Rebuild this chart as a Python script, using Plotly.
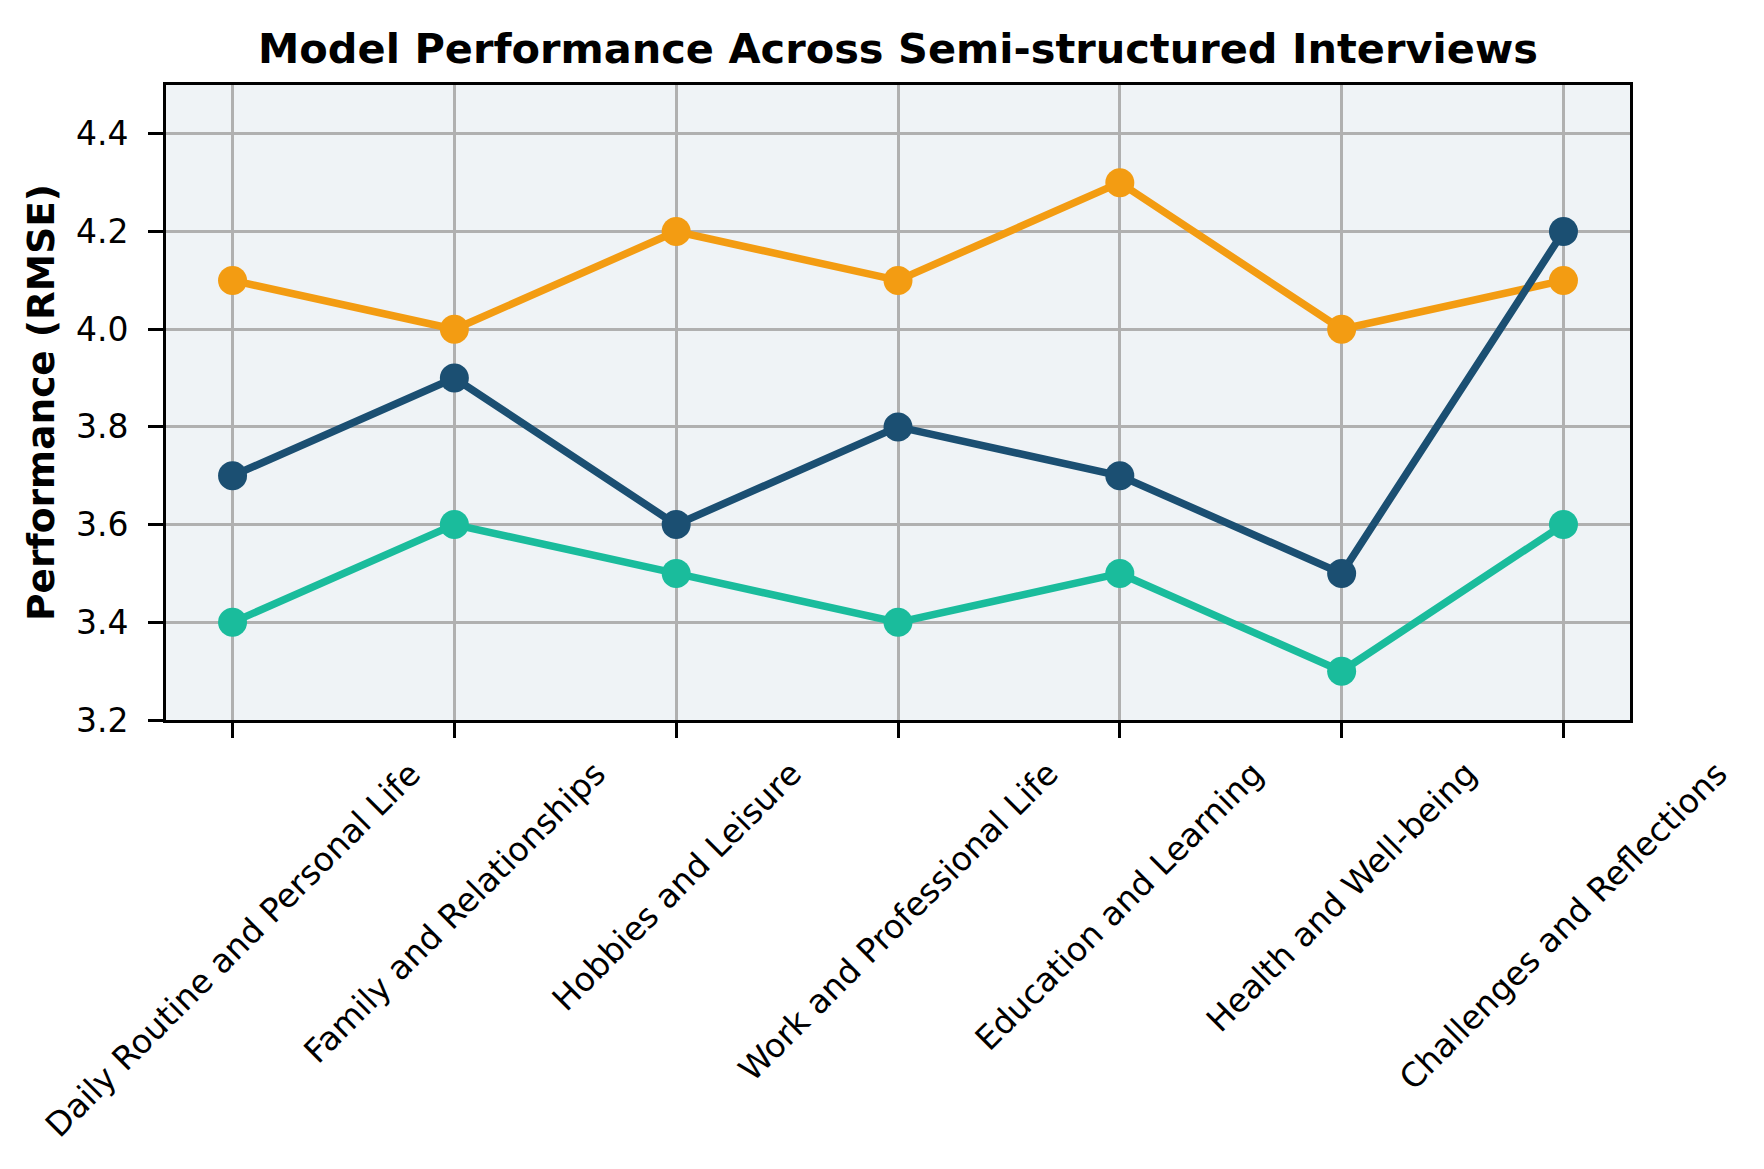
import plotly.graph_objects as go

categories = [
    "Daily Routine and Personal Life",
    "Family and Relationships",
    "Hobbies and Leisure",
    "Work and Professional Life",
    "Education and Learning",
    "Health and Well-being",
    "Challenges and Reflections",
]
series_orange = [4.1, 4.0, 4.2, 4.1, 4.3, 4.0, 4.1]
series_navy = [3.7, 3.9, 3.6, 3.8, 3.7, 3.5, 4.2]
series_teal = [3.4, 3.6, 3.5, 3.4, 3.5, 3.3, 3.6]
y_ticks = [3.2, 3.4, 3.6, 3.8, 4.0, 4.2, 4.4]

FONT = "DejaVu Sans"
xs = list(range(len(categories)))

fig = go.Figure()
for vals, col in [(series_teal, "#1ABC9C"), (series_orange, "#F39C12"), (series_navy, "#1B4F72")]:
    fig.add_trace(go.Scatter(
        x=xs, y=vals, mode="lines+markers",
        line=dict(color=col, width=7.5),
        marker=dict(color=col, size=29),
        showlegend=False,
    ))

annotations = []
for i, c in enumerate(categories):
    annotations.append(dict(
        x=i, xref="x", y=-0.049, yref="paper",
        text=c, textangle=-45, showarrow=False,
        xanchor="center", yanchor="top",
        font=dict(family=FONT, size=33, color="black"),
    ))

fig.update_layout(
    width=1764, height=1169,
    margin=dict(l=158, r=142, t=77, b=457),
    paper_bgcolor="white",
    plot_bgcolor="#EFF3F6",
    title=dict(
        text="Model Performance Across Semi-structured Interviews",
        x=0.5, xref="paper", xanchor="center",
        y=1 - 40 / 1169, yref="container", yanchor="middle",
        font=dict(family=FONT, size=41.5, color="black", weight="bold"),
    ),
    annotations=annotations,
    font=dict(family=FONT, color="black"),
)

fig.update_xaxes(
    range=[-0.3, 6.3],
    tickmode="array", tickvals=xs, showticklabels=False,
    ticks="outside", ticklen=15, tickwidth=3, tickcolor="black",
    showgrid=True, gridcolor="#B0B0B0", gridwidth=3,
    showline=True, linecolor="black", linewidth=3, mirror=True,
    zeroline=False,
)
fig.update_yaxes(
    range=[3.2, 4.5],
    tickmode="array", tickvals=y_ticks, tickformat=".1f",
    tickfont=dict(family=FONT, size=33, color="black"),
    ticks="outside", ticklen=15, tickwidth=3, tickcolor="black",
    ticklabelstandoff=13,
    showgrid=True, gridcolor="#B0B0B0", gridwidth=3,
    showline=True, linecolor="black", linewidth=3, mirror=True,
    zeroline=False,
    title=dict(text="Performance (RMSE)", standoff=10,
               font=dict(family=FONT, size=37.5, color="black", weight="bold")),
)

fig.write_html("out.html")
